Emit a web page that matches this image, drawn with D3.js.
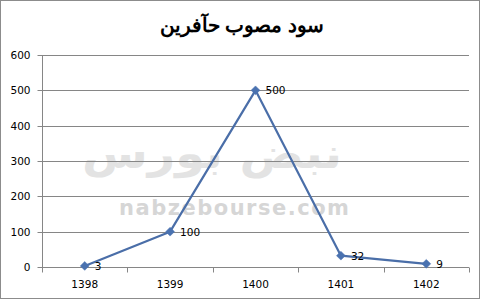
<!DOCTYPE html>
<html><head><meta charset="utf-8">
<script src="https://cdn.jsdelivr.net/npm/d3@7"></script>
<style>html,body{margin:0;padding:0;background:#fff;}svg{display:block;}</style>
</head><body>
<svg id="chart" width="484" height="302"></svg>
<script>
const title = "سود مصوب حآفرین";
const categories = ["1398", "1399", "1400", "1401", "1402"];
const values = [3, 100, 500, 32, 9];
const yTicks = [0, 100, 200, 300, 400, 500, 600];
const watermarkFa = "نبض بورس";
const watermarkEn = "nabzebourse.com";

const svg = d3.select("#chart");
const W = 484, H = 302;
const m = {left: 42, right: 15, top: 55, bottom: 35};
const x = d3.scaleBand().domain(categories).range([m.left, W - m.right]);
const y = d3.scaleLinear().domain([0, 600]).range([H - m.bottom, m.top]);

svg.append("rect").attr("x", 0.5).attr("y", 0.5).attr("width", 479).attr("height", 298)
  .attr("fill", "#fff").attr("stroke", "#8c8c8c");

// watermark
svg.append("text").attr("x", 212).attr("y", 168).attr("text-anchor", "middle")
  .attr("font-family", "DejaVu Sans").attr("font-weight", "bold").attr("font-size", 42)
  .attr("fill", "#e3e3e3").attr("textLength", 260).attr("lengthAdjust", "spacingAndGlyphs").text(watermarkFa);
svg.append("text").attr("x", 119).attr("y", 215)
  .attr("font-family", "DejaVu Sans").attr("font-weight", "bold").attr("font-size", 21)
  .attr("fill", "#d6d6d6").attr("textLength", 230).attr("lengthAdjust", "spacing").text(watermarkEn);

svg.append("text").attr("x", 242).attr("y", 32).attr("text-anchor", "middle")
  .attr("font-family", "Liberation Sans, Arial").attr("font-weight", "bold").attr("font-size", 20)
  .attr("fill", "#000").text(title);

// gridlines
svg.append("g").selectAll("line").data(yTicks.filter(d => d > 0)).join("line")
  .attr("x1", m.left).attr("x2", W - m.right)
  .attr("y1", d => Math.round(y(d)) + 0.5).attr("y2", d => Math.round(y(d)) + 0.5)
  .attr("stroke", "#868686").attr("stroke-width", 1);

// y axis
const yAxis = svg.append("g").attr("transform", `translate(${m.left + 0.5},0)`)
  .call(d3.axisLeft(y).tickValues(yTicks).tickSize(5).tickPadding(7));
yAxis.select(".domain").attr("stroke", "#868686").attr("d", `M0,${y(0)}V${y(600)}`);
yAxis.selectAll(".tick line").attr("stroke", "#868686");
yAxis.selectAll(".tick").attr("transform", d => `translate(0,${Math.round(y(d)) + 0.5})`);
yAxis.selectAll("text").attr("font-family", "DejaVu Sans").attr("font-size", 10.5).attr("fill", "#000");

// x axis
const xAxis = svg.append("g").attr("transform", `translate(0,${Math.round(y(0)) + 0.5})`)
  .call(d3.axisBottom(x).tickSize(0).tickPadding(13));
xAxis.select(".domain").attr("stroke", "#868686").attr("d", `M${m.left},0H${W - m.right}`);
xAxis.selectAll("text").attr("font-family", "DejaVu Sans").attr("font-size", 10.5).attr("fill", "#000");
const bounds = categories.map(c => x(c)).concat([x(categories[categories.length - 1]) + x.bandwidth()]);
xAxis.append("g").selectAll("line").data(bounds).join("line")
  .attr("x1", d => Math.round(d) + 0.5).attr("x2", d => Math.round(d) + 0.5)
  .attr("y1", 0).attr("y2", 5).attr("stroke", "#868686");

// line
const cx = c => x(c) + x.bandwidth() / 2;
const pts = categories.map((c, i) => [cx(c), y(values[i])]);
svg.append("path").attr("d", d3.line()(pts)).attr("fill", "none")
  .attr("stroke", "#4a6ea8").attr("stroke-width", 2.2).attr("stroke-linejoin", "round");

svg.append("g").selectAll("path").data(pts).join("path")
  .attr("transform", d => `translate(${d[0]},${d[1]})`)
  .attr("d", d3.symbol(d3.symbolDiamond2, 50)())
  .attr("fill", "#4a72b0").attr("stroke", "#4a72b0").attr("stroke-width", 0.5);

svg.append("g").selectAll("text").data(pts).join("text")
  .attr("x", d => d[0] + 10).attr("y", d => d[1] + 4)
  .attr("font-family", "DejaVu Sans").attr("font-size", 10.5).attr("fill", "#000")
  .text((d, i) => values[i]);
</script>
</body></html>
